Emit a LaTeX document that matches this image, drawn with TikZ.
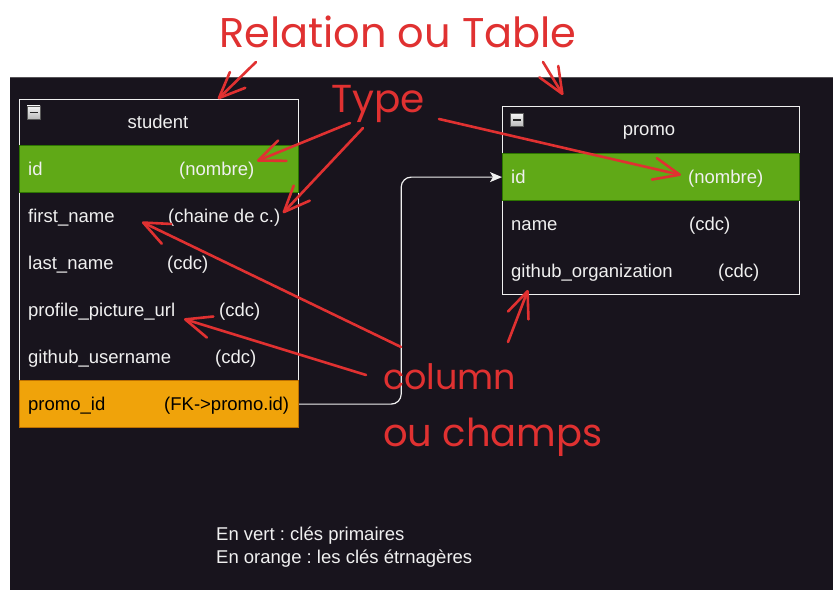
\documentclass[tikz,border=0pt]{standalone}
\usepackage{fontspec}
\setmainfont{Liberation Sans}
\newfontfamily\hand{Poppins}
\usetikzlibrary{arrows.meta}
\definecolor{bg}{HTML}{18141D}
\definecolor{pk}{HTML}{60A917}
\definecolor{pkline}{HTML}{2D7600}
\definecolor{fk}{HTML}{F0A30A}
\definecolor{fkline}{HTML}{BD7000}
\definecolor{ink}{HTML}{F0F0F0}
\definecolor{note}{HTML}{E03131}
\frenchspacing
\begin{document}
\begin{tikzpicture}[x=1pt,y=-1pt,
  txt/.style={font=\fontsize{18.5}{22}\selectfont, text=ink, inner sep=0, anchor=base west},
  head/.style={font=\fontsize{18.5}{22}\selectfont, text=ink, inner sep=0, anchor=base},
  tablebox/.style={draw=ink, line width=1.2pt, anchor=north west, inner sep=0},
  pkrow/.style={draw=pkline, fill=pk, line width=1.2pt, anchor=north west, inner sep=0, minimum height=47pt},
  fkrow/.style={draw=fkline, fill=fk, line width=1.2pt, anchor=north west, inner sep=0, minimum height=47pt},
  minusbox/.style={draw=gray!70!black, line width=0.8pt, top color=white!92!gray, bottom color=gray!55, minimum width=13pt, minimum height=13pt, inner sep=0,
    path picture={\draw[line width=1.6pt, black!85] ([xshift=2.5pt]path picture bounding box.west) -- ([xshift=-2.5pt]path picture bounding box.east);}},
  conn/.style={draw=ink, line width=1.2pt, rounded corners=10pt, -{Stealth[length=12pt,width=10pt,inset=3pt]}},
  hw/.style={font=\hand\fontsize{#1}{#1}\selectfont, text=note, inner sep=0, anchor=base west},
  redarrow/.style={draw=note, line width=2.6pt, line cap=round, -{Straight Barb[length=26pt,width=22pt,line cap=round,line join=round]}}
]
\useasboundingbox (0,0) rectangle (840,599);
\fill[white] (0,0) rectangle (840,599);
\fill[bg] (10,77) rectangle (833,590);
\draw[gray!60!bg, line width=1pt] (10,77.5) -- (833,77.5);

% ---------- student table ----------
\node[tablebox, minimum width=279pt, minimum height=328pt] (student) at (19,99) {};
\node[minusbox] (smin) at (33.5,112.5) {};
\node[head] (stitle) at (158,128.6) {student};
\node[pkrow, minimum width=279pt] (s-id) at (19,145) {};
\node[fkrow, minimum width=279pt] (s-fk) at (19,380) {};

\node[txt] (s-id-n) at (28,175.1) {id};
\node[txt] (s-id-t) at (179,175.1) {(nombre)};
\node[txt] (s-fn-n) at (28,222.1) {first\_name};
\node[txt] (s-fn-t) at (168,222.1) {(chaine de c.)};
\node[txt] (s-ln-n) at (28,269.1) {last\_name};
\node[txt] (s-ln-t) at (167,269.1) {(cdc)};
\node[txt] (s-pp-n) at (28,316.1) {profile\_picture\_url};
\node[txt] (s-pp-t) at (219,316.1) {(cdc)};
\node[txt] (s-gh-n) at (28,363.1) {github\_username};
\node[txt] (s-gh-t) at (215,363.1) {(cdc)};
\node[txt, text=black] (s-fk-n) at (28,410.1) {promo\_id};
\node[txt, text=black] (s-fk-t) at (164,410.1) {(FK->promo.id)};

% ---------- promo table ----------
\node[tablebox, minimum width=297pt, minimum height=188pt] (promo) at (502,106) {};
\node[minusbox] (pmin) at (517,120) {};
\node[head] (ptitle) at (649,135.6) {promo};
\node[pkrow, minimum width=297pt] (p-id) at (502,153) {};

\node[txt] (p-id-n) at (511,183.1) {id};
\node[txt] (p-id-t) at (688,183.1) {(nombre)};
\node[txt] (p-nm-n) at (511,230.1) {name};
\node[txt] (p-nm-t) at (689,230.1) {(cdc)};
\node[txt] (p-go-n) at (511,277.1) {github\_organization};
\node[txt] (p-go-t) at (718,277.1) {(cdc)};

% ---------- relation connector ----------
\draw[conn] (s-fk.east) -- ++(102,0) |- (p-id.west);

% ---------- legend ----------
\node[txt] (leg1) at (216,540.6) {En vert : clés primaires};
\node[txt] (leg2) at (216,563.6) {En orange : les clés étrnagères};

% ---------- red annotations ----------
\node[hw=41.5] (rel) at (219,48) {Relation ou Table};
\node[hw=39] (type) at (331,113) {Type};
\node[hw=35] (col1) at (383,389) {column};
\node[hw=38.5] (col2) at (383,446) {ou champs};

\coordinate (r1a) at (256,62);  \coordinate (r1b) at (218,99);
\coordinate (r2a) at (543,62);  \coordinate (r2b) at (563,95);
\coordinate (t1a) at (350,123); \coordinate (t1b) at (257,161);
\coordinate (t2a) at (363,128); \coordinate (t2b) at (283,213);
\coordinate (t3a) at (439,119); \coordinate (t3b) at (681,175);
\coordinate (c1a) at (401,347); \coordinate (c1b) at (142,222);
\coordinate (c2a) at (366,375); \coordinate (c2b) at (184,319);
\coordinate (c3a) at (508,342); \coordinate (c3b) at (528,290);

\draw[redarrow] (r1a) -- (r1b);
\draw[redarrow] (r2a) -- (r2b);
\draw[redarrow] (t1a) -- (t1b);
\draw[redarrow] (t2a) -- (t2b);
\draw[redarrow] (t3a) -- (t3b);
\draw[redarrow] (c1a) -- (c1b);
\draw[redarrow] (c2a) -- (c2b);
\draw[redarrow] (c3a) -- (c3b);
\end{tikzpicture}
\end{document}
